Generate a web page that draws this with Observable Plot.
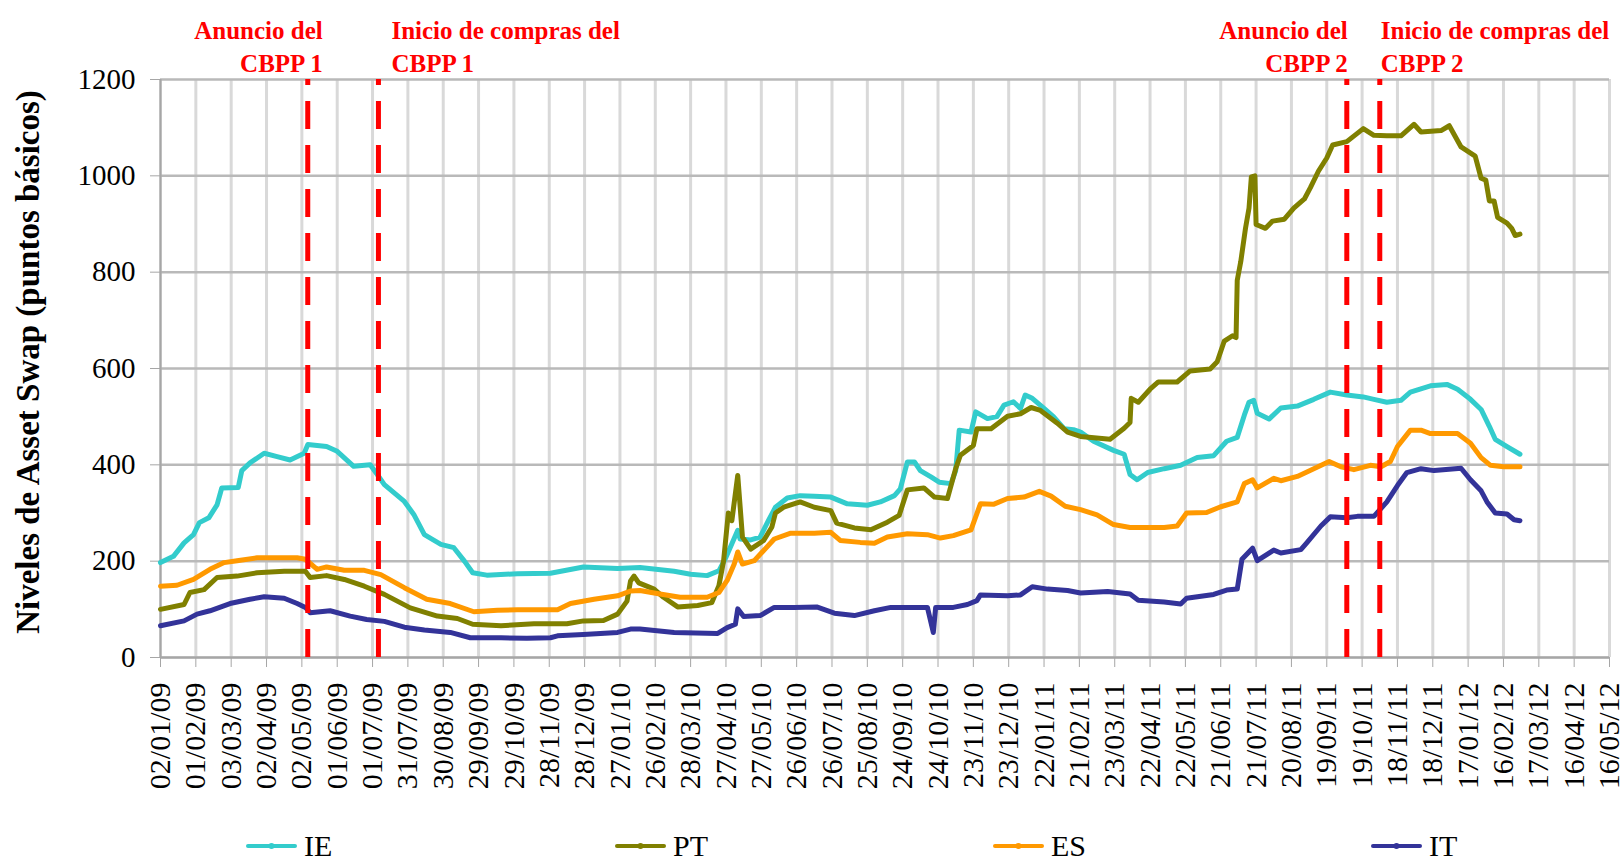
<!DOCTYPE html>
<html><head><meta charset="utf-8">
<script src="https://cdn.jsdelivr.net/npm/d3@7"></script>
<script src="https://cdn.jsdelivr.net/npm/@observablehq/plot@0.6"></script>
<style>
body{margin:0;background:#fff;}
#wrap{position:relative;width:1623px;height:859px;}
</style></head><body><div id="wrap"></div>
<script>
// Day offsets are counted from 02/01/09
const START = Date.UTC(2009, 0, 2);
const day = n => new Date(START + n * 864e5);

const seriesNames = ["IE", "PT", "ES", "IT"];
const seriesColors = ["#33CCCC", "#808000", "#FF9900", "#333399"];

const IE = [[0,197],[11,210],[20,238],[28,255],[33,280],[41,290],[48,317],[52,352],[66,353],[69,388],[76,404],[88,424],[99,417],[110,410],[122,424],[125,442],[141,438],[150,428],[164,397],[178,400],[184,380],[190,359],[207,324],[215,297],[224,255],[238,235],[249,228],[258,200],[265,176],[277,171],[303,174],[331,175],[359,188],[388,185],
[407,187],[436,179],[450,173],[464,170],[474,180],[480,208],[485,236],[490,264],[492,246],[501,244],[509,250],[516,284],[522,312],[532,331],[543,336],[555,335],[569,333],[583,319],[600,316],[611,323],[623,336],[628,350],[634,406],[640,406],[645,388],[654,375],[661,364],[671,361],[675,388],[678,472],[688,468],[692,510],[702,496],[710,500],[716,524],[724,531],[730,517],[734,545],[740,538],[750,517],[758,500],[767,475],[775,473],
[781,468],[792,449],[809,430],[818,422],[823,380],[829,369],[838,384],[852,392],[866,399],[880,415],[894,419],[905,449],[914,457],[920,503],[924,530],[928,534],[931,507],[941,495],[951,518],[965,522],[979,536],[993,551],[1007,545],[1021,541],[1030,536],[1041,530],[1053,534],[1061,551],[1078,564],[1092,567],[1101,557],[1112,536],[1121,515],[1128,480],[1133,453],[1143,438],[1154,422]];

const PT = [[0,100],[20,110],[25,135],[37,141],[48,166],[65,169],[82,176],[105,179],[123,179],[127,166],[141,170],[156,162],[173,148],[190,131],[212,103],[235,86],[252,81],[265,69],[289,66],[317,70],[345,70],[359,76],[376,77],[388,90],[396,117],[399,159],[402,169],[406,155],
[419,142],[427,125],[439,105],[456,108],[468,114],[474,149],[478,201],[482,300],[485,284],[490,378],[494,250],[501,225],[512,243],[519,271],[522,300],[529,312],[543,323],[555,312],[569,305],[574,279],[589,269],[603,265],[617,281],[627,295],[634,348],[648,352],[657,333],[668,330],[675,392],[679,420],[690,440],[693,475],[705,475],[719,501],[730,506],[739,519],[747,513],[761,487],[770,468],
[781,459],[806,453],[818,476],[823,488],[824,538],[830,530],[840,557],[847,572],[863,572],[874,595],[891,599],[897,614],[903,657],[910,668],[913,664],[914,783],[917,822],[921,891],[924,933],[926,998],[929,1000],[930,899],[938,891],[944,906],[954,910],[962,933],[971,952],[976,975],[983,1010],[990,1037],[995,1064],[1007,1071],[1021,1098],[1030,1084],[1041,1083],[1053,1083],[1064,1107],[1070,1091],[1087,1094],[1094,1104],[1104,1060],[1116,1041],[1121,995],[1125,991],[1128,948],[1132,948],[1135,914],[1143,902],[1147,891],[1150,876],[1154,879]];

const ES = [[0,148],[14,150],[28,162],[42,183],[54,197],[65,201],[82,207],[99,207],[116,207],[123,204],[133,183],[141,188],[156,181],[173,181],[187,172],[207,145],[226,121],[246,112],[266,95],[286,98],[303,99],[337,99],[348,112],[368,121],[388,128],[399,138],
[407,139],[424,132],[441,125],[464,125],[474,135],[481,160],[487,194],[490,219],[494,194],[504,201],[512,222],[521,246],[535,258],[555,258],[569,260],[577,243],[594,239],[606,237],[617,250],[634,257],[651,255],[662,248],[673,253],[688,265],[696,319],[707,318],[719,330],[733,333],[746,345],[756,335],[768,314],
[781,307],[795,296],[809,276],[823,270],[852,270],[863,273],[871,300],[888,301],[900,313],[914,323],[920,361],[927,369],[931,352],[945,372],[951,367],[965,376],[979,392],[992,407],[1002,396],[1013,390],[1027,399],[1036,396],[1044,407],[1050,438],[1061,472],[1070,472],[1078,465],[1101,465],[1112,445],[1121,415],[1129,399],[1140,396],[1154,396]];

const IT = [[0,66],[20,76],[31,90],[42,97],[59,112],[76,121],[88,126],[105,123],[116,112],[123,104],[127,93],[144,97],[161,86],[175,79],[190,75],[207,63],[224,57],[246,52],[263,41],[289,41],[311,40],[331,41],[337,45],[359,48],[388,52],[399,59],
[407,59],[436,52],[473,50],[481,62],[488,69],[490,101],[495,85],[509,87],[521,104],[538,104],[557,105],[572,92],[589,87],[606,97],[620,104],[634,104],[651,104],[656,52],[658,104],[673,104],[685,110],[693,118],[696,130],[719,128],[730,130],[740,147],[753,142],[770,139],
[781,134],[804,137],[823,132],[830,119],[852,115],[866,111],[871,123],[894,131],[905,140],[914,142],[918,204],[927,227],[931,201],[945,223],[951,217],[968,224],[973,238],[985,273],[993,292],[1007,290],[1016,293],[1030,293],[1041,323],[1050,357],[1058,384],[1070,392],[1081,388],[1104,393],[1112,369],[1121,346],[1126,323],[1133,300],[1143,298],[1149,286],[1154,284]];

const seriesData = [IE, PT, ES, IT];

// category axis: one tick every 30 days, 02/01/09 .. 16/05/12
const tickDays = d3.range(0, 1231, 30);
const yTicks = [0, 200, 400, 600, 800, 1000, 1200];

const eventDates = ["2009-05-07", "2009-07-06", "2011-10-06", "2011-11-03"];
const eventLabels = ["Anuncio del\nCBPP 1", "Inicio de compras del\nCBPP 1", "Anuncio del\nCBPP 2", "Inicio de compras del\nCBPP 2"];
const yTitle = "Niveles de Asset Swap (puntos básicos)";

const rows = [];
seriesNames.forEach((name, i) => seriesData[i].forEach(([d, v]) => rows.push({date: day(d), value: v, series: name})));
const tickDates = tickDays.map(day);
const events = eventDates.map((d, i) => ({date: new Date(d), label: eventLabels[i]}));

const serif = "Liberation Serif, Times New Roman, serif";
const labelOpts = [
  {textAnchor: "end", dx: 15},
  {textAnchor: "start", dx: 13},
  {textAnchor: "end", dx: 1},
  {textAnchor: "start", dx: 1}
];

const plot = Plot.plot({
  width: 1623, height: 859,
  marginLeft: 160, marginRight: 14, marginTop: 79, marginBottom: 202,
  style: {fontFamily: serif, background: "white", overflow: "visible"},
  x: {type: "utc", domain: [day(0), day(1230)]},
  y: {domain: [0, 1200]},
  color: {domain: seriesNames, range: seriesColors},
  marks: [
    Plot.gridX(tickDates, {stroke: "#d9d9d9", strokeWidth: 3, strokeOpacity: 1}),
    Plot.gridY(yTicks, {stroke: "#b9b9b9", strokeWidth: 2.5, strokeOpacity: 1}),
    Plot.ruleX([day(0)], {stroke: "#a6a6a6", strokeWidth: 2}),
    Plot.ruleY([0], {stroke: "#a6a6a6", strokeWidth: 2}),
    Plot.axisY(yTicks, {tickSize: 10, tickPadding: 15, fontSize: 29, fontFamily: serif, label: null, stroke: "#a6a6a6", fill: "#000", tickFormat: d => String(d)}),
    Plot.axisX(tickDates, {tickSize: 10, tickPadding: 15, tickRotate: -90, fontSize: 30, fontFamily: serif, label: null, stroke: "#a6a6a6", fill: "#000", tickFormat: d3.utcFormat("%d/%m/%y")}),
    Plot.lineY(rows, {x: "date", y: "value", stroke: "series", strokeWidth: 5, strokeLinejoin: "round", strokeLinecap: "round"}),
    Plot.ruleX(events, {x: "date", y1: 0, y2: 1200, stroke: "#FF0000", strokeWidth: 5, strokeDasharray: "28,16"}),
    ...events.map((e, i) => Plot.text([e], {x: "date", frameAnchor: "top", text: "label", lineAnchor: "bottom", dy: -8, fontSize: 25, fontFamily: serif, fontWeight: "bold", fill: "#FF0000", lineHeight: 1.32, ...labelOpts[i]}))
  ]
});

document.getElementById("wrap").appendChild(plot);

const svg = d3.select(plot);
// y-axis title
svg.append("text")
  .attr("transform", "translate(27,362) rotate(-90)")
  .attr("text-anchor", "middle")
  .attr("dy", "0.35em")
  .attr("font-size", 33)
  .attr("font-weight", "bold")
  .attr("fill", "#000")
  .text(yTitle);

// legend below the axis labels
const legendLeft = [247, 616, 994, 1372];
const lg = svg.append("g").attr("font-size", 30).attr("fill", "#000").attr("text-anchor", "start");
seriesNames.forEach((name, i) => {
  const g = lg.append("g").attr("transform", `translate(${legendLeft[i]},846)`);
  g.append("line").attr("x1", 1).attr("x2", 48).attr("y1", 0).attr("y2", 0)
    .attr("stroke", seriesColors[i]).attr("stroke-width", 4).attr("stroke-linecap", "round");
  g.append("circle").attr("cx", 24.5).attr("cy", 0).attr("r", 3).attr("fill", seriesColors[i]);
  g.append("text").attr("x", 57).attr("y", 0).attr("dy", "0.33em").attr("text-anchor", "start").text(name);
});

// make sure every text uses the serif face
svg.selectAll("text").style("font-family", serif);
</script></body></html>
